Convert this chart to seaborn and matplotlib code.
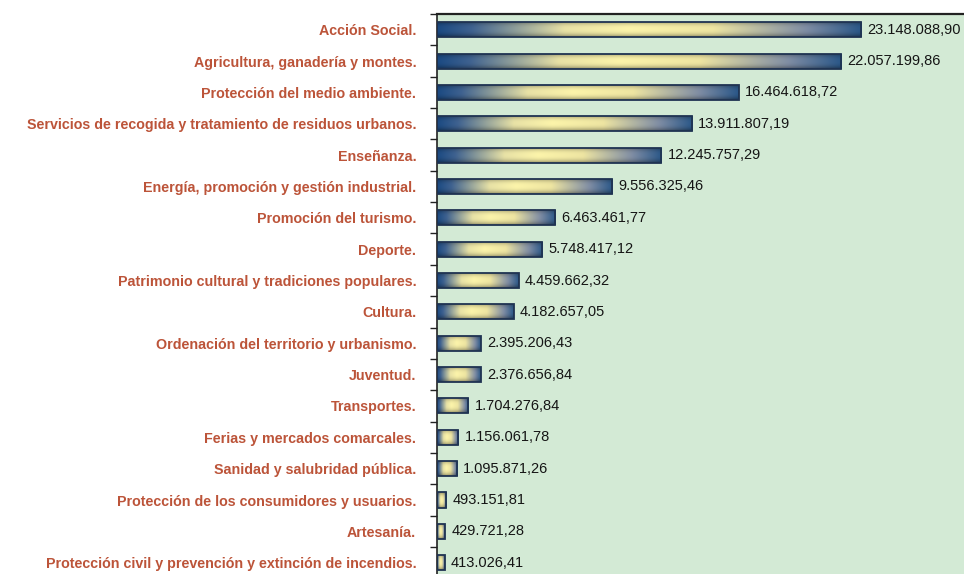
import numpy as np
import pandas as pd
import matplotlib
matplotlib.use("Agg")
import matplotlib.pyplot as plt
from matplotlib.colors import LinearSegmentedColormap
import seaborn as sns

# Budget by programme area (euros)
categories = [
    "Acción Social.",
    "Agricultura, ganadería y montes.",
    "Protección del medio ambiente.",
    "Servicios de recogida y tratamiento de residuos urbanos.",
    "Enseñanza.",
    "Energía, promoción y gestión industrial.",
    "Promoción del turismo.",
    "Deporte.",
    "Patrimonio cultural y tradiciones populares.",
    "Cultura.",
    "Ordenación del territorio y urbanismo.",
    "Juventud.",
    "Transportes.",
    "Ferias y mercados comarcales.",
    "Sanidad y salubridad pública.",
    "Protección de los consumidores y usuarios.",
    "Artesanía.",
    "Protección civil y prevención y extinción de incendios.",
]
values = [
    23148088.90, 22057199.86, 16464618.72, 13911807.19, 12245757.29,
    9556325.46, 6463461.77, 5748417.12, 4459662.32, 4182657.05,
    2395206.43, 2376656.84, 1704276.84, 1156061.78, 1095871.26,
    493151.81, 429721.28, 413026.41,
]

df = pd.DataFrame({"area": categories, "importe": values})

def es_format(v):
    s = f"{v:,.2f}"
    return s.replace(",", "X").replace(".", ",").replace("X", ".")

sns.set_theme(style="white")
plt.rcParams["font.family"] = ["Liberation Sans", "DejaVu Sans"]

W, H = 964, 574
fig = plt.figure(figsize=(W / 100, H / 100), dpi=100)
ax = fig.add_axes([437 / W, 0, 1 - 437 / W, (H - 14) / H])
ax.set_facecolor("#d3ead5")

sns.barplot(data=df, x="importe", y="area", orient="h", ax=ax,
            color="#1d4c84", width=0.48, saturation=1)

# Cylinder-like shading: dark blue ends, pale yellow centre
hcmap = LinearSegmentedColormap.from_list(
    "barra", [(0.0, "#1b4a82"), (0.08, "#3f6290"), (0.30, "#e8e2a6"),
              (0.45, "#fcf4aa"), (0.65, "#eee5a2"), (0.87, "#7f8da4"),
              (1.0, "#2a5788")])
nx, ny = 256, 32
hgrad = hcmap(np.linspace(0, 1, nx))[:, :3]
yy = np.linspace(-1, 1, ny)
vshade = 1.0 - 0.4 * np.abs(yy) ** 2.5
img = hgrad[None, :, :] * vshade[:, None, None]

for p in list(ax.patches):
    x0, y0 = p.get_x(), p.get_y()
    w, h = p.get_width(), p.get_height()
    im = ax.imshow(img, extent=(x0, x0 + w, y0 + h, y0), aspect="auto",
                   interpolation="bilinear", zorder=2)
    im.set_clip_path(p)
    p.set_facecolor("none")
    p.set_edgecolor("#1f3352")
    p.set_linewidth(1.3)
    p.set_zorder(3)
    ax.annotate(es_format(w), xy=(x0 + w, y0 + h / 2), xytext=(4.5, 0),
                textcoords="offset points", va="center", ha="left",
                fontsize=10.5, color="#151515", zorder=4, annotation_clip=False)

n = len(categories)
ax.set_xlim(0, 28.75e6)
ax.set_ylim(n - 0.64, -0.5)
ax.set_xlabel("")
ax.set_ylabel("")
ax.set_xticks([])

ax.set_yticks(range(n))
ax.set_yticklabels(categories, fontsize=10.3, color="#bc5439", fontweight="bold")
ax.tick_params(axis="y", which="major", length=0, pad=15)
ax.set_yticks(np.arange(n) - 0.5, minor=True)
ax.tick_params(axis="y", which="minor", length=5, width=1, color="#222222",
               direction="out", left=True)

for side in ("right", "bottom"):
    ax.spines[side].set_visible(False)
ax.spines["left"].set_color("#222222")
ax.spines["left"].set_linewidth(1.2)
ax.spines["top"].set_color("#222222")
ax.spines["top"].set_linewidth(1.6)

fig.savefig("out.png", dpi=100, facecolor="white")
